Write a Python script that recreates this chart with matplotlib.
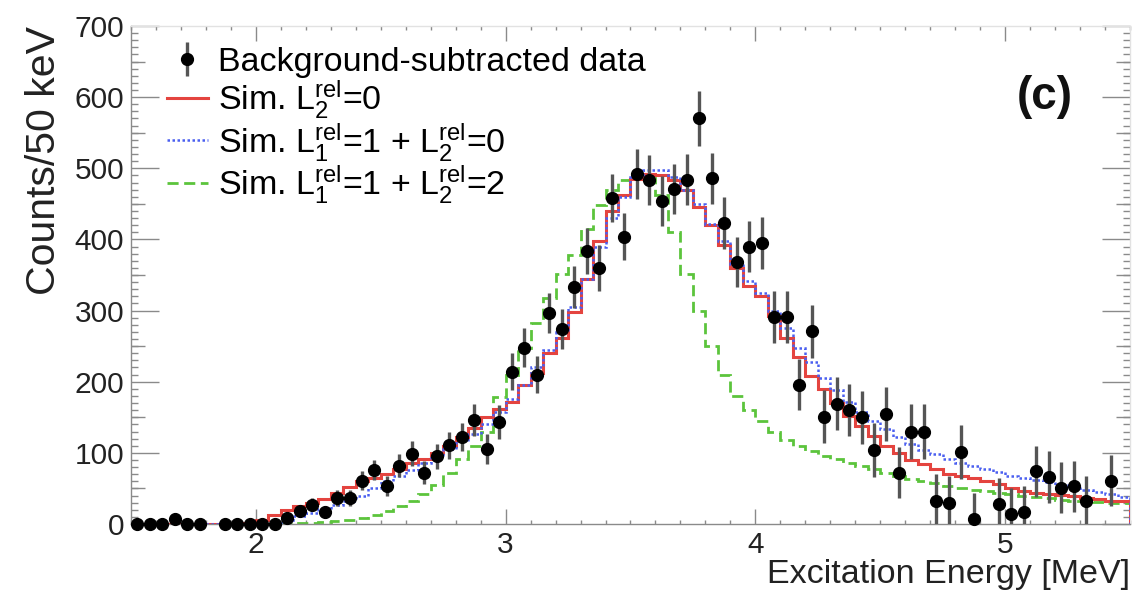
import numpy as np
import matplotlib
matplotlib.use("Agg")
import matplotlib.pyplot as plt
from matplotlib.ticker import MultipleLocator, FixedLocator

plt.rcParams['font.family'] = ['Liberation Sans', 'DejaVu Sans']
plt.rcParams['mathtext.fontset'] = 'custom'
plt.rcParams['mathtext.rm'] = 'Liberation Sans'
plt.rcParams['mathtext.it'] = 'Liberation Sans:italic'

# - Data ---------------------------------------------------------------------
# 50 keV bins from 1.5 to 5.5 MeV (80 bins)
e_min, e_max, bin_width = 1.5, 5.5, 0.05

nan = np.nan
data_counts = [0, 0, 0, 7, 0, 0, nan, 0, 0, 0,
               0, 0, 9, 18, 27, 17, 37, 37, 61, 76,
               54, 82, 99, 72, 95, 111, 122, 146, 105, 143,
               214, 248, 210, 297, 274, 333, 384, 360, 458, 404,
               492, 483, 454, 471, 484, 570, 486, 423, 368, 390,
               395, 291, 291, 196, 271, 151, 169, 160, 150, 104,
               154, 72, 130, 130, 32, 30, 101, 7, nan, 28,
               14, 17, 74, 66, 51, 53, 32, nan, 61, nan]
data_err = [3, 3, 3, 5, 3, 3, 0, 3, 3, 3,
            3, 3, 7, 8, 9, 8, 11, 11, 13, 14,
            14, 16, 17, 16, 18, 19, 20, 22, 21, 24,
            26, 27, 26, 28, 28, 30, 32, 32, 34, 33,
            35, 35, 35, 35, 36, 38, 36, 36, 35, 36,
            36, 37, 37, 36, 37, 37, 37, 37, 37, 38,
            38, 36, 38, 38, 38, 38, 38, 36, 0, 36,
            36, 36, 36, 36, 36, 36, 35, 0, 36, 0]

sim_l2_0 = [0, 0, 0, 0, 0, 0, 0, 0, 0, 2,
            6, 12, 20, 26, 30, 35, 43, 52, 60, 65,
            70, 78, 86, 92, 100, 110, 122, 135, 150, 162,
            172, 195, 212, 240, 262, 298, 345, 398, 440, 462,
            485, 492, 490, 484, 470, 446, 420, 392, 360, 335,
            320, 293, 262, 235, 208, 190, 170, 152, 138, 124,
            110, 100, 90, 84, 78, 70, 67, 64, 60, 56,
            51, 47, 44, 42, 41, 39, 37, 35, 33, 32]
sim_l1_1_l2_0 = [0, 0, 0, 0, 0, 0, 0, 0, 0, 0,
                 0, 2, 6, 11, 16, 21, 27, 33, 40, 50,
                 60, 68, 76, 86, 96, 106, 116, 127, 140, 158,
                 175, 196, 220, 245, 270, 305, 345, 390, 430, 460,
                 488, 498, 497, 488, 470, 450, 422, 398, 365, 342,
                 325, 300, 275, 248, 228, 205, 188, 172, 158, 145,
                 133, 122, 112, 104, 98, 92, 86, 82, 78, 73,
                 68, 65, 62, 59, 55, 52, 48, 45, 42, 38]
sim_l1_1_l2_2 = [0, 0, 0, 0, 0, 0, 0, 0, 0, 0,
                 0, 0, 0, 1, 2, 3, 4, 6, 9, 12,
                 18, 25, 32, 42, 55, 72, 92, 110, 130, 178,
                 210, 248, 282, 318, 352, 378, 415, 448, 470, 483,
                 488, 486, 462, 410, 352, 300, 250, 210, 180, 160,
                 145, 130, 118, 110, 102, 96, 91, 86, 81, 77,
                 72, 67, 63, 60, 57, 53, 50, 48, 46, 44,
                 42, 40, 38, 36, 34, 33, 32, 31, 30, 29]

labels = ["Background-subtracted data",
          r"Sim. $\mathrm{L_{2}^{rel}}$=0",
          r"Sim. $\mathrm{L_{1}^{rel}}$=1 + $\mathrm{L_{2}^{rel}}$=0",
          r"Sim. $\mathrm{L_{1}^{rel}}$=1 + $\mathrm{L_{2}^{rel}}$=2"]

edges = np.linspace(e_min, e_max, len(sim_l2_0) + 1)
centers = 0.5 * (edges[:-1] + edges[1:])

# - Plot ---------------------------------------------------------------------
fig = plt.figure(figsize=(11.35, 5.96), dpi=100)
ax = fig.add_axes([0.1154, 0.1208, 0.8802, 0.8356])

h_red = ax.stairs(sim_l2_0, edges, color='#e4443f', lw=2.2, zorder=3)
h_blue = ax.stairs(sim_l1_1_l2_0, edges, color='#4a5ff0', lw=1.8,
                   linestyle=(0, (1, 1)), zorder=4)
h_green = ax.stairs(sim_l1_1_l2_2, edges, color='#5cc43c', lw=2.0,
                    linestyle=(0, (4, 2)), zorder=2)

eb = ax.errorbar(centers, data_counts, yerr=data_err, fmt='o', color='black',
                 ms=8.5, ecolor='#555555', elinewidth=2.4, capsize=0, zorder=5)
eb[0].set_clip_on(False)

ax.set_xlim(e_min, e_max)
ax.set_ylim(0, 700)

tick_col = '#8a8a8a'
for s in ax.spines.values():
    s.set_color(tick_col)
    s.set_linewidth(1.0)
ax.spines['top'].set_color('#e2e2e2')
ax.spines['right'].set_color('#e2e2e2')

ax.xaxis.set_major_locator(MultipleLocator(1))
ax.xaxis.set_minor_locator(MultipleLocator(0.1))
ax.yaxis.set_major_locator(MultipleLocator(100))
ax.yaxis.set_minor_locator(MultipleLocator(10))
ax.tick_params(which='both', direction='in', top=True, right=True,
               color=tick_col, width=1.0, labelsize=21.5, labelcolor='#222222')
ax.tick_params(axis='x', which='major', length=11, pad=5)
ax.tick_params(axis='x', which='minor', length=3)
ax.tick_params(axis='y', which='major', length=20, pad=5)
ax.tick_params(axis='y', which='minor', length=5)

# medium ticks at the 50s (ROOT style secondary divisions)
axm = fig.add_axes(ax.get_position(), frameon=False)
axm.patch.set_visible(False)
axm.set_xlim(e_min, e_max)
axm.set_ylim(0, 700)
axm.set_xticks([])
axm.yaxis.set_major_locator(FixedLocator(np.arange(50, 700, 100)))
axm.tick_params(axis='y', direction='in', length=10, width=1.0, color=tick_col,
                left=True, right=True, labelleft=False)

ax.set_xlabel("Excitation Energy [MeV]", loc='right', fontsize=24.5,
              color='#222222', labelpad=0)
ax.set_ylabel("Counts/50 keV", loc='top', fontsize=29.5, color='#222222',
              labelpad=8)

ax.text(0.915, 0.857, "(c)", transform=ax.transAxes, fontsize=33,
        fontweight='bold', ha='center', va='center', color='#111111')

ax.legend([eb, h_red, h_blue, h_green], labels, loc='upper left',
          bbox_to_anchor=(0.036, 0.958), frameon=False, fontsize=24.5,
          handlelength=1.2, handletextpad=0.3, labelspacing=0.0,
          borderaxespad=0, borderpad=0)

fig.savefig("out.png", dpi=100)
